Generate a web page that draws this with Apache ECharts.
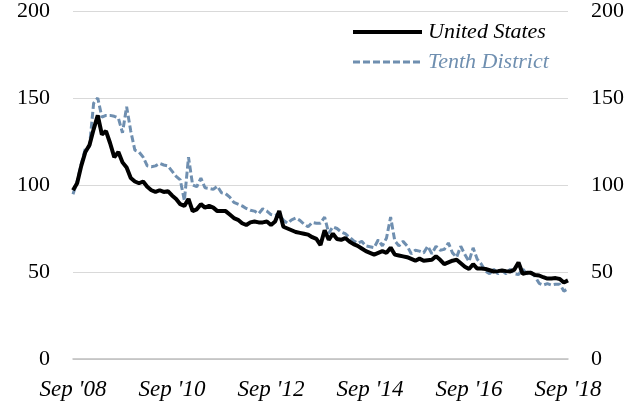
<!DOCTYPE html>
<html>
<head>
<meta charset="utf-8">
<script src="https://cdn.jsdelivr.net/npm/echarts@6/dist/echarts.min.js"></script>
<style>
html,body{margin:0;padding:0;background:#fff;}
#chart{width:638px;height:404px;}
</style>
</head>
<body>
<div id="chart"></div>
<script>
// Monthly categories Sep 2008 .. Sep 2018
const monthNames = ['Jan','Feb','Mar','Apr','May','Jun','Jul','Aug','Sep','Oct','Nov','Dec'];
const categories = [];
for (let y = 2008, m = 8; !(y === 2018 && m === 9); ) {
  categories.push(monthNames[m] + " '" + String(y % 100).padStart(2, '0'));
  m++; if (m === 12) { m = 0; y++; }
}
const tickLabels = ["Sep '08", "Sep '10", "Sep '12", "Sep '14", "Sep '16", "Sep '18"];
const yTicks = [0, 50, 100, 150, 200];

const unitedStates = [
  97, 101, 111, 119, 123, 132, 140, 129, 131, 124,
  116, 119, 113, 110, 104, 102, 101, 102, 99, 97,
  96, 97, 96, 96.5, 94, 92, 89, 88, 92, 85,
  86, 89, 87, 88, 87, 85, 85, 85, 83, 81,
  80, 78, 77, 78.5, 79, 78.5, 78.5, 79, 77, 79,
  85, 76, 75, 74, 73, 72.5, 72, 71.5, 70, 69,
  65.5, 74, 68.5, 72, 69, 68.5, 69.5, 67.5, 66, 65,
  63.5, 62, 61, 60, 61, 62, 61, 64, 60, 59.5,
  59, 58.5, 57.5, 56.5, 57.7, 56.5, 56.8, 57, 59, 57,
  54.5, 55.5, 56.5, 57, 55, 53, 51.7, 54.5, 52, 52,
  51.7, 51, 50.3, 50.5, 50.8, 50.5, 50.3, 51.4, 55.5, 49,
  49.5, 49.5, 48.3, 48, 47, 46.2, 46.3, 46.5, 46, 44,
  45.2
];
const tenthDistrict = [
  94.7, 102, 112, 121, 122, 147, 150, 139, 140, 140,
  139.5, 138.5, 130, 145, 131, 120, 119, 116, 111, 110.5,
  111, 112.4, 111.5, 111, 108, 105, 103, 91, 116, 100,
  99, 104, 98.4, 98, 97.5, 99.3, 95.5, 95, 93, 90,
  89, 88, 86.5, 85.5, 85, 83.5, 86.3, 85, 83, 82.5,
  83.5, 79.7, 78, 80, 81, 79.7, 77.5, 76, 78.5, 78,
  78, 81.6, 72.3, 76, 75, 73, 72, 70, 68, 66.5,
  67.6, 65, 64.5, 64, 68.5, 65, 69.5, 81.6, 68, 65,
  67.6, 65, 60.5, 62.5, 62, 61, 64.8, 60.5, 64.8, 62.5,
  63, 66.7, 61, 58.5, 64.8, 60, 56, 63.9, 57.3, 54.5,
  50.5, 49, 51.5, 49, 50.8, 49, 51.5, 49, 48.5, 51.7,
  49, 49.9, 47.5, 43.5, 42.5, 43.3, 42.5, 43, 43, 39,
  40.5
];

const FONT = '"Liberation Serif", "DejaVu Serif", serif';
const BLUE = '#6f8fb0';

const chart = echarts.init(document.getElementById('chart'), null, {renderer: 'canvas'});
const yAxisBase = {
  type: 'value', min: 0, max: 200, interval: 50,
  axisLine: {show: false}, axisTick: {show: false},
  axisLabel: {color: '#000', fontFamily: FONT, fontSize: 22, margin: 23,
    formatter: v => yTicks.indexOf(v) >= 0 ? String(v) : ''}
};
chart.setOption({
  animation: false,
  backgroundColor: '#fff',
  grid: {left: 73, right: 70, top: 2, bottom: 45, containLabel: false},
  legend: {
    orient: 'vertical', left: 351, top: 21, padding: 0,
    itemWidth: 69, itemHeight: 14, itemGap: 8,
    itemStyle: {opacity: 0},
    textStyle: {fontFamily: FONT, fontSize: 22, fontStyle: 'italic', lineHeight: 20, padding: [0,0,0,1]},
    data: [
      {name: 'United States', textStyle: {color: '#000'}, lineStyle: {width: 4, color: '#000', type: 'solid'}},
      {name: 'Tenth District', textStyle: {color: BLUE}, lineStyle: {width: 3, color: BLUE, type: [7, 3]}}
    ]
  },
  xAxis: {
    type: 'category', data: categories, boundaryGap: false,
    axisLine: {lineStyle: {color: '#bfbfbf', width: 1.5}},
    axisTick: {show: false},
    splitLine: {show: false},
    axisLabel: {
      interval: 0, margin: 19, color: '#000', fontFamily: FONT, fontSize: 23, fontStyle: 'italic',
      formatter: v => tickLabels.indexOf(v) >= 0 ? v : ''
    }
  },
  yAxis: [
    Object.assign({}, yAxisBase, {position: 'left', splitLine: {lineStyle: {color: '#d9d9d9', width: 1}}}),
    Object.assign({}, yAxisBase, {position: 'right', splitLine: {show: false}})
  ],
  series: [
    {name: 'Tenth District', type: 'line', data: tenthDistrict, symbol: 'none', z: 2,
      lineStyle: {color: BLUE, width: 3, type: [7, 3]}, itemStyle: {color: BLUE}},
    {name: 'United States', type: 'line', data: unitedStates, symbol: 'none', z: 3,
      lineStyle: {color: '#000', width: 4}, itemStyle: {color: '#000'}}
  ]
});
</script>
</body>
</html>
